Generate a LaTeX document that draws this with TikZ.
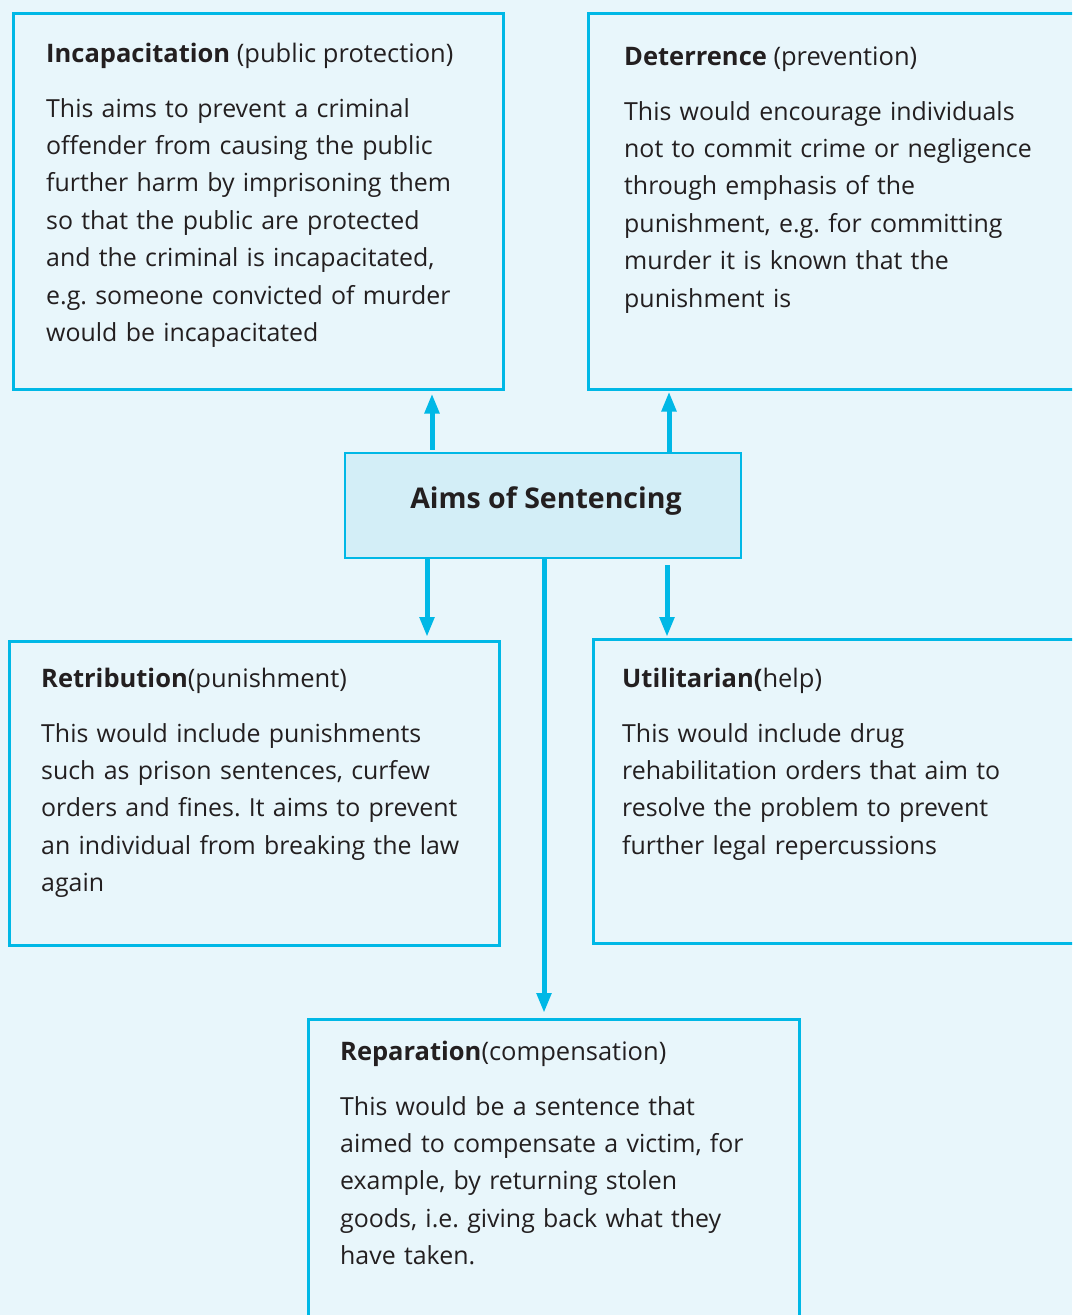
\documentclass[tikz,border=0pt]{standalone}
\usepackage{fontspec}
\setmainfont{Open Sans}
\usetikzlibrary{arrows.meta}
\definecolor{bgblue}{HTML}{E8F6FB}
\definecolor{lineblue}{HTML}{00B8E6}
\definecolor{hubfill}{HTML}{D3EEF7}
\definecolor{inktext}{HTML}{231F20}
\frenchspacing
\begin{document}
\begin{tikzpicture}[x=1pt,y=-1pt,
  panel/.style={draw=lineblue,line width=2.5pt,inner sep=0pt,anchor=north west},
  hub/.style={panel,fill=hubfill,anchor=center},
  hubtext/.style={anchor=base,inner sep=0pt,font=\bfseries\fontsize{28.5}{34}\selectfont,text=inktext},
  heading/.style={anchor=base west,inner sep=0pt,text=inktext,font=\fontsize{25.5}{30}\selectfont},
  body/.style={anchor=base west,inner sep=0pt,align=left,text width=480pt,text=inktext,font=\fontsize{24.9}{37.4}\selectfont},
  link/.style={draw=lineblue,line width=5pt,-{Triangle[length=20pt,width=14pt]}}]
\useasboundingbox (0,0) rectangle (1072,1315);
\fill[bgblue] (0,0) rectangle (1072,1315);
\clip (0,0) rectangle (1072,1315);

% boxes
\node[panel,minimum width=490pt,minimum height=376pt] (incap) at (12,12) {};
\node[panel,minimum width=498pt,minimum height=376pt] (deter) at (587,12) {};
\node[hub,minimum width=396pt,minimum height=105pt] (aims) at (543,505.5) {};
\node[hubtext] (aimsT) at (546,508) {Aims of Sentencing};
\node[panel,minimum width=490pt,minimum height=304pt] (retri) at (8,640) {};
\node[panel,minimum width=493pt,minimum height=304pt] (util) at (592,638) {};
\node[panel,minimum width=491pt,minimum height=312pt] (repar) at (307,1018) {};

% headings
\node[heading] (incapH) at (46,62) {\textbf{Incapacitation} (public protection)};
\node[heading] (deterH) at (624,65) {\textbf{Deterrence} (prevention)};
\node[heading] (retriH) at (41,687) {\textbf{Retribution}(punishment)};
\node[heading] (utilH) at (622,687) {\textbf{Utilitarian(}help)};
\node[heading] (reparH) at (340,1060) {\textbf{Reparation}(compensation)};

% body texts
\node[body] (incapT) at (46,117) {This aims to prevent a criminal\\offender from causing the public\\further harm by imprisoning them\\so that the public are protected\\and the criminal is incapacitated,\\e.g. someone convicted of murder\\would be incapacitated};
\node[body] (deterT) at (624,120) {This would encourage individuals\\not to commit crime or negligence\\through emphasis of the\\punishment, e.g. for committing\\murder it is known that the\\punishment is};
\node[body] (retriT) at (41,742) {This would include punishments\\such as prison sentences, curfew\\orders and fines. It aims to prevent\\an individual from breaking the law\\again};
\node[body] (utilT) at (622,742) {This would include drug\\rehabilitation orders that aim to\\resolve the problem to prevent\\further legal repercussions};
\node[body] (reparT) at (340,1115) {This would be a sentence that\\aimed to compensate a victim, for\\example, by returning stolen\\goods, i.e. giving back what they\\have taken.};

% connectors
\coordinate (upL) at ([xshift=-111pt,yshift=2pt]aims.north);
\coordinate (upR) at ([xshift=126pt]aims.north);
\coordinate (dnL) at ([xshift=-116pt]aims.south);
\coordinate (dnR) at ([xshift=124pt,yshift=-6pt]aims.south);
\coordinate (dnC) at ([xshift=1pt]aims.south);
\draw[link,shorten >=3pt] (upL) -- (upL |- incap.south);
\draw[link,shorten >=1pt] (upR) -- (upR |- deter.south);
\draw[link,shorten >=3pt] (dnL) -- (dnL |- retri.north);
\draw[link,shorten >=1pt] (dnR) -- (dnR |- util.north);
\draw[link,shorten >=5pt] (dnC) -- (dnC |- repar.north);
\end{tikzpicture}
\end{document}
